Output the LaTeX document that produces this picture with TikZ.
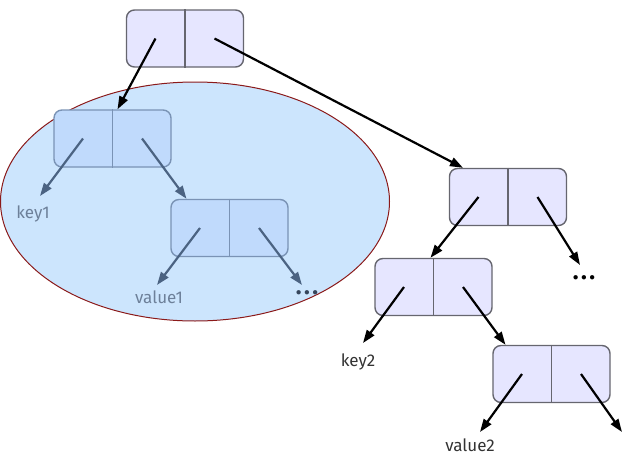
\documentclass[tikz,border=0pt]{standalone}
\usepackage{fontspec}
\setmainfont{Fira Sans}
\usetikzlibrary{arrows.meta,calc}
\definecolor{cellfill}{HTML}{E6E6FF}
\definecolor{cellline}{HTML}{66666F}
\definecolor{subfill}{HTML}{C0DAFC}
\definecolor{subline}{HTML}{7A93B5}
\definecolor{blobfill}{HTML}{CCE5FD}
\definecolor{blobline}{HTML}{8B1A1A}
\definecolor{subarrow}{HTML}{4B6382}
\definecolor{subtext}{HTML}{6D8099}
\tikzset{
  cell/.style={draw=cellline, fill=cellfill, line width=1.4pt, rounded corners=8pt,
    minimum width=117pt, minimum height=57pt, inner sep=0pt},
  subcell/.style={cell, draw=subline, fill=subfill},
  link/.style={-{Triangle[length=13pt,width=9pt]}, line width=2.2pt, black},
  sublink/.style={link, subarrow},
  leaf/.style={font=\fontsize{17}{19}\selectfont, text=black!80, inner sep=0pt},
  subleaf/.style={leaf, text=subtext},
  dots/.style={font=\bfseries\fontsize{24}{24}\selectfont, inner sep=0pt}
}
\newcommand{\spreaddots}{\hbox{.\kern2.5pt.\kern2.5pt.}}
\begin{document}
\begin{tikzpicture}[x=1pt,y=-1pt]
\useasboundingbox (0,0) rectangle (633,461);
% the grouped sub-tree
\draw[blobline, fill=blobfill, line width=1pt] (195,201.5) ellipse [x radius=194.5, y radius=119.5];

% cells
\node[cell]    (root) at (185,38.5) {};
\node[subcell] (a)    at (112.5,138.5) {};
\node[subcell] (b)    at (229.5,228) {};
\node[cell]    (c)    at (508,197) {};
\node[cell]    (d)    at (433.5,287) {};
\node[cell]    (e)    at (551.5,374) {};
\foreach \n/\col in {root/cellline,a/subline,b/subline,c/cellline,d/cellline,e/cellline}{
  \draw[\col, line width=1.4pt] (\n.north) -- (\n.south);
  \coordinate (\n L) at ($(\n.center)+(-29.5,0)$);
  \coordinate (\n R) at ($(\n.center)+(29.5,0)$);
}

% leaves
\node[subleaf] (key1)   at (33,214) {key1};
\node[subleaf] (value1) at (159,297) {value1};
\node[dots, text=subarrow!70!black] (bdots) at (307,293) {\spreaddots};
\node[dots] (cdots) at (584,278) {\spreaddots};
\node[leaf] (key2)   at (358,362) {key2};
\node[leaf] (value2) at (470,445) {value2};
\coordinate (eend) at (622,432);

% arrow tips just above the leaves
\coordinate (key1tip)   at ($(key1.center)+(7,-18)$);
\coordinate (value1tip) at ($(value1.center)+(-2,-12)$);
\coordinate (bdotstip)  at ($(bdots.center)+(-5,-8)$);
\coordinate (cdotstip)  at ($(cdots.center)+(-4,-13)$);
\coordinate (key2tip)   at ($(key2.center)+(5,-19)$);
\coordinate (value2tip) at ($(value2.center)+(10,-13)$);

% links
\draw[link] (rootL) -- ([xshift=5]a.north);
\draw[link] (rootR) -- ([xshift=-45]c.north);
\draw[sublink] (aL) -- (key1tip);
\draw[sublink] (aR) -- ([xshift=-43]b.north);
\draw[sublink] (bL) -- (value1tip);
\draw[sublink] (bR) -- (bdotstip);
\draw[link] (cL) -- ([xshift=-3]d.north);
\draw[link] (cR) -- (cdotstip);
\draw[link] (dL) -- (key2tip);
\draw[link] (dR) -- ([xshift=-46]e.north);
\draw[link] (eL) -- (value2tip);
\draw[link] (eR) -- (eend);
\end{tikzpicture}
\end{document}
